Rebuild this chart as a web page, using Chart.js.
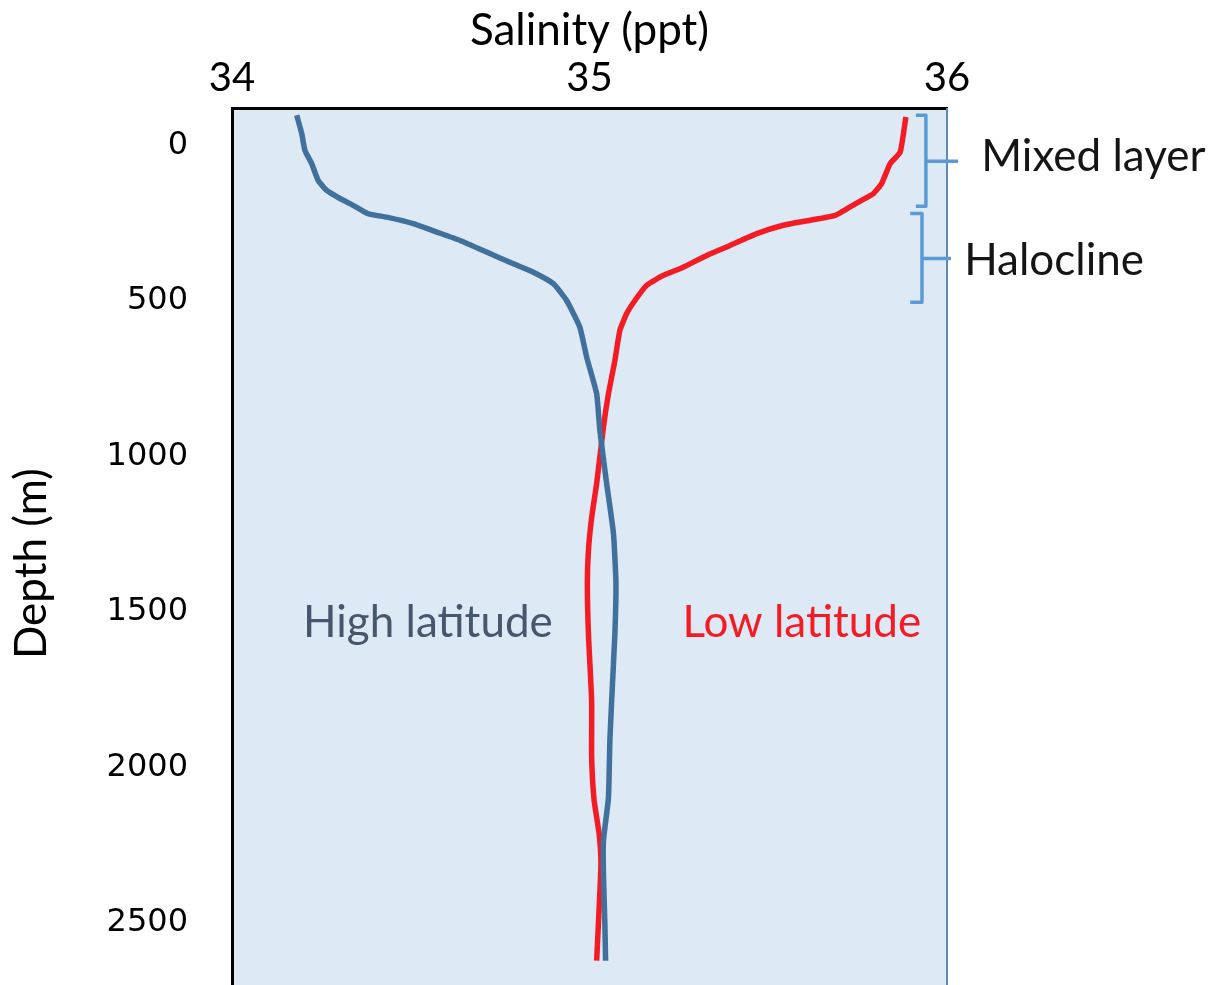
<!DOCTYPE html>
<html>
<head>
<meta charset="utf-8">
<script src="https://cdn.jsdelivr.net/npm/chart.js@4.4.1/dist/chart.umd.min.js"></script>
<style>
  html, body { margin: 0; padding: 0; background: #fff; }
</style>
</head>
<body>
<canvas id="salinityChart" width="1219" height="985"></canvas>
<script>
// Salinity profiles (salinity in ppt, depth in m)
const highLatSalinity = [34.181, 34.195, 34.204, 34.223, 34.241, 34.265, 34.302, 34.339, 34.381, 34.433,
  34.507, 34.573, 34.638, 34.712, 34.787, 34.843, 34.899, 34.936, 34.973, 34.992, 35.020, 35.029,
  35.048, 35.067, 35.074, 35.071, 35.062, 35.057, 35.053, 35.039, 35.039, 35.043, 35.045];
const highLatDepth = [-97, -38, 16, 59, 113, 145, 171, 193, 220, 231,
  252, 279, 306, 343, 381, 408, 445, 499, 585, 681, 799, 917,
  1088, 1248, 1409, 1570, 1786, 1914, 2098, 2236, 2342, 2503, 2622];

const lowLatSalinity = [35.885, 35.869, 35.841, 35.817, 35.794, 35.761, 35.729, 35.687, 35.617, 35.542,
  35.468, 35.393, 35.328, 35.262, 35.207, 35.160, 35.127, 35.104, 35.085, 35.071, 35.053, 35.039,
  35.020, 35.006, 34.997, 34.994, 34.997, 35.006, 35.006, 35.013, 35.027, 35.032, 35.027, 35.020];
const lowLatDepth = [-91, 22, 59, 123, 155, 177, 198, 225, 241, 257,
  284, 322, 354, 392, 418, 450, 499, 541, 595, 692, 799, 906,
  1088, 1197, 1303, 1409, 1570, 1786, 1969, 2107, 2214, 2310, 2452, 2622];

const depthTicks = [0, 500, 1000, 1500, 2000, 2500];
const salinityTicks = [34, 35, 36];

const toPoints = (xs, ys) => xs.map((x, i) => ({ x: x, y: ys[i] }));

// brackets on the right side, in data units
const brackets = [
  { top: -97, bottom: 196, mid: 51, hook: 35.913, spine: 35.941, tip: 36.031 },
  { top: 219, bottom: 505, mid: 364, hook: 35.897, spine: 35.930, tip: 36.011 }
];

const plotDecor = {
  id: "plotDecor",
  beforeDraw(chart) {
    const { ctx, chartArea: a } = chart;
    ctx.save();
    ctx.fillStyle = "#dde9f5";
    ctx.fillRect(a.left, a.top, a.right - a.left, a.bottom - a.top);
    ctx.restore();
  },
  afterDraw(chart) {
    const { ctx, chartArea: a } = chart;
    const xs = chart.scales.x, ys = chart.scales.y;
    ctx.save();
    // thin right border
    ctx.strokeStyle = "#6389b3";
    ctx.lineWidth = 2;
    ctx.beginPath();
    ctx.moveTo(a.right, a.top);
    ctx.lineTo(a.right, a.bottom);
    ctx.stroke();

    // brackets
    ctx.strokeStyle = "#5b9bd5";
    ctx.lineWidth = 3.5;
    ctx.lineJoin = "round";
    brackets.forEach(b => {
      const yT = ys.getPixelForValue(b.top), yB = ys.getPixelForValue(b.bottom), yM = ys.getPixelForValue(b.mid);
      const xH = xs.getPixelForValue(b.hook), xS = xs.getPixelForValue(b.spine), xT = xs.getPixelForValue(b.tip);
      ctx.beginPath();
      ctx.moveTo(xH, yT);
      ctx.lineTo(xS, yT);
      ctx.lineTo(xS, yB);
      ctx.lineTo(xH, yB);
      ctx.moveTo(xS, yM);
      ctx.lineTo(xT, yM);
      ctx.stroke();
    });

    // text labels
    ctx.textBaseline = "middle";
    ctx.font = "44px Lato";
    ctx.fillStyle = "#151515";
    ctx.textAlign = "left";
    ctx.fillText("Mixed layer", xs.getPixelForValue(36.096), ys.getPixelForValue(38));
    ctx.fillText("Halocline", xs.getPixelForValue(36.048), ys.getPixelForValue(370));

    ctx.textAlign = "center";
    ctx.fillStyle = "#46566c";
    ctx.fillText("High latitude", xs.getPixelForValue(34.548), ys.getPixelForValue(1535));
    ctx.fillStyle = "#f41c24";
    ctx.fillText("Low latitude", xs.getPixelForValue(35.594), ys.getPixelForValue(1535));

    // y axis title, a bit below the middle like the original
    ctx.save();
    ctx.translate(32, ys.getPixelForValue(1345));
    ctx.rotate(-Math.PI / 2);
    ctx.fillStyle = "#000";
    ctx.fillText("Depth (m)", 0, 0);
    ctx.restore();
    ctx.restore();
  }
};

const ctx = document.getElementById("salinityChart").getContext("2d");
new Chart(ctx, {
  type: "scatter",
  data: {
    datasets: [
      {
        label: "High latitude",
        data: toPoints(highLatSalinity, highLatDepth),
        showLine: true,
        borderColor: "#41709c",
        borderWidth: 5.5,
        pointRadius: 0,
        tension: 0.15,
        borderJoinStyle: "round"
      },
      {
        label: "Low latitude",
        data: toPoints(lowLatSalinity, lowLatDepth),
        showLine: true,
        borderColor: "#f41c24",
        borderWidth: 5.5,
        pointRadius: 0,
        tension: 0.15,
        borderJoinStyle: "round"
      }
    ]
  },
  options: {
    responsive: false,
    animation: false,
    layout: { padding: { top: 0, left: 0, right: 272, bottom: 0 } },
    plugins: {
      legend: { display: false },
      tooltip: { enabled: false }
    },
    scales: {
      x: {
        type: "linear",
        position: "top",
        min: 34,
        max: 36,
        afterBuildTicks: scale => { scale.ticks = salinityTicks.map(v => ({ value: v })); },
        afterFit: scale => {
          scale.height = 108;
          scale.paddingLeft = 0;
          scale.paddingRight = 0;
        },
        grid: { display: false, drawTicks: false },
        border: { display: true, color: "#000", width: 3 },
        ticks: {
          color: "#000",
          padding: 6,
          maxRotation: 0,
          callback: v => String(v),
          font: { family: "Lato", size: 40 }
        },
        title: {
          display: true,
          text: "Salinity (ppt)",
          color: "#000",
          padding: { top: 4, bottom: 0 },
          font: { family: "Lato", size: 44 }
        }
      },
      y: {
        type: "linear",
        position: "left",
        reverse: true,
        min: -120,
        max: 2700,
        afterBuildTicks: scale => { scale.ticks = depthTicks.map(v => ({ value: v })); },
        afterFit: scale => {
          scale.width = 232;
          scale.paddingTop = 0;
          scale.paddingBottom = 0;
        },
        grid: { display: false, drawTicks: false },
        border: { display: true, color: "#000", width: 3 },
        ticks: {
          color: "#000",
          padding: 44,
          callback: v => String(v),
          font: { family: "DejaVu Sans", size: 32 }
        },
        title: { display: false }
      }
    }
  },
  plugins: [plotDecor]
});
</script>
</body>
</html>
